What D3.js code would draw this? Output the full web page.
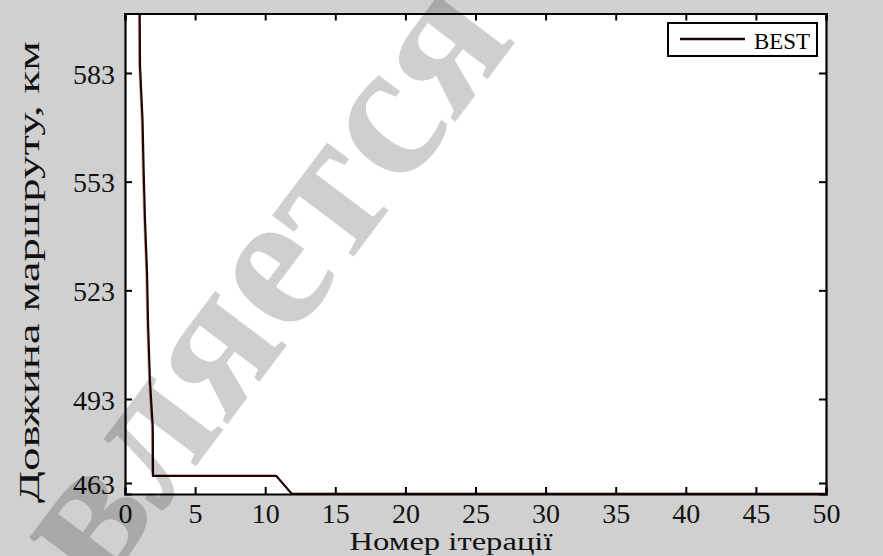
<!DOCTYPE html>
<meta charset="utf-8">
<style>
  body { margin: 0; background: #d0d0d0; }
  svg text { font-family: "Liberation Serif", "Times New Roman", Times, serif; }
</style>
<svg width="883" height="556"></svg>
<script src="https://d3js.org/d3.v7.min.js"></script>
<script>

// data
var iter = [1.05, 1.07, 1.25, 1.33, 1.43, 1.57, 1.65, 1.78, 1.98, 2.0, 10.8, 11.9, 50];
var best = [599.5, 585, 570, 556, 542, 528, 513, 498, 483, 465.5, 465.5, 459, 459];
var xTicks = [0, 5, 10, 15, 20, 25, 30, 35, 40, 45, 50];
var yTicks = [463, 493, 523, 553, 583];
var seriesName = "BEST";

var serif = "'Liberation Serif', 'Times New Roman', Times, serif";

var svg = d3.select("svg"),
    width = +svg.attr("width"),
    height = +svg.attr("height"),
    margin = {left: 125, right: 57, top: 13.5, bottom: 62};

var x = d3.scaleLinear().domain([0, 50]).range([margin.left, width - margin.right]);
// the tick spacing on the original axis is not even near the bottom
var y = d3.scaleLinear()
    .domain([459, 463, 493, 583, 599.5])
    .range([height - margin.bottom, 483, 399, 73, margin.top]);

svg.append("rect").attr("width", width).attr("height", height).attr("fill", "#d0d0d0");
svg.append("rect")
    .attr("x", x(0)).attr("y", margin.top)
    .attr("width", x(50) - x(0)).attr("height", y(459) - margin.top)
    .attr("fill", "#fff");

var line = d3.line()
    .x(function(d) { return x(d[0]); })
    .y(function(d) { return y(d[1]); });
var pts = d3.zip(iter, best);

svg.append("path").datum(pts).attr("d", line)
    .attr("fill", "none").attr("stroke", "#e6a8a8").attr("stroke-width", 1.2)
    .attr("transform", "translate(-1.3,-1.3)");
svg.append("path").datum(pts).attr("d", line)
    .attr("fill", "none").attr("stroke", "#1c0606").attr("stroke-width", 2.2);

// axes, ticks inward on all sides
var tl = 7;
svg.append("g").attr("transform", "translate(0," + y(459) + ")")
    .call(d3.axisBottom(x).tickValues(xTicks).tickSize(-tl).tickPadding(9))
    .call(styleAxis)
    .selectAll("text").attr("dy", "0.72em");
svg.append("g").attr("transform", "translate(0," + margin.top + ")")
    .call(d3.axisTop(x).tickValues(xTicks).tickSize(-tl).tickFormat(""))
    .call(styleAxis);
svg.append("g").attr("transform", "translate(" + x(0) + ",0)")
    .call(d3.axisLeft(y).tickValues(yTicks).tickSize(-tl).tickPadding(10))
    .call(styleAxis)
    .selectAll("text").attr("dy", "0.36em");
svg.append("g").attr("transform", "translate(" + x(50) + ",0)")
    .call(d3.axisRight(y).tickValues(yTicks).tickSize(-tl).tickFormat(""))
    .call(styleAxis);

function styleAxis(g) {
  g.attr("font-family", serif);
  g.select(".domain").attr("stroke", "#000").attr("stroke-width", 2.2);
  g.selectAll(".tick line").attr("stroke", "#000").attr("stroke-width", 2);
  g.selectAll("text").attr("font-size", 28).attr("fill", "#111")
      .attr("font-family", serif);
}

// legend
var lg = svg.append("g").attr("transform", "translate(668,23)");
lg.append("rect").attr("width", 149).attr("height", 33)
    .attr("fill", "#fff").attr("stroke", "#000").attr("stroke-width", 2);
lg.append("line").attr("x1", 12).attr("x2", 77).attr("y1", 16).attr("y2", 16)
    .attr("stroke", "#1c0606").attr("stroke-width", 2.5);
lg.append("text").attr("x", 86).attr("y", 26).attr("font-size", 24)
    .attr("font-family", serif)
    .attr("textLength", 56).attr("lengthAdjust", "spacingAndGlyphs").text(seriesName);

// axis titles
svg.append("text")
    .attr("x", 451).attr("y", 550).attr("text-anchor", "middle")
    .attr("font-family", serif)
    .attr("font-size", 25).attr("textLength", 203).attr("lengthAdjust", "spacingAndGlyphs")
    .attr("fill", "#111")
    .text("Номер ітерації");
svg.append("text")
    .attr("transform", "translate(39,272) rotate(-90)")
    .attr("text-anchor", "middle")
    .attr("font-family", serif)
    .attr("font-size", 30).attr("textLength", 462).attr("lengthAdjust", "spacingAndGlyphs")
    .attr("fill", "#111")
    .text("Довжина маршруту, км");

// watermark
svg.append("text")
    .attr("transform", "translate(98,596) rotate(-53)")
    .attr("font-family", serif)
    .attr("font-size", 196).attr("font-weight", "bold")
    .attr("fill", "#000").attr("fill-opacity", 0.19)
    .text("вляется");

</script>
